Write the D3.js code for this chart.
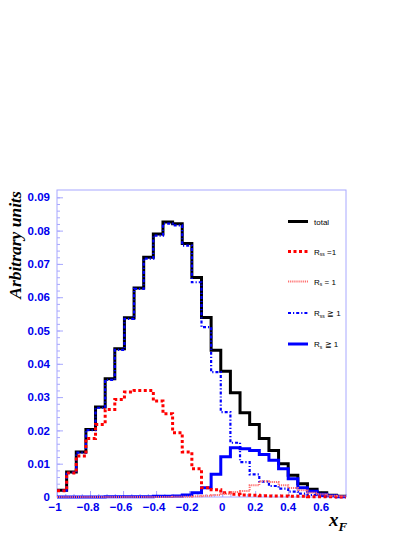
<!DOCTYPE html>
<html>
<head>
<meta charset="utf-8">
<script src="https://cdn.jsdelivr.net/npm/d3@7"></script>
<style>
    body { margin: 0; background: #fff; }
    svg { display: block; }
</style>
</head>
<body>
<script>
// histogram: 30 bins between -1 and 0.75
var xMin = -1, xMax = 0.75, nBins = 30;

var total = [0.0020, 0.0075, 0.0135, 0.0203, 0.0270, 0.0355, 0.0445, 0.0538, 0.0628, 0.0720,
    0.0790, 0.0826, 0.0821, 0.0761, 0.0659, 0.0539, 0.0441, 0.0378, 0.0313, 0.0253,
    0.0218, 0.0176, 0.0140, 0.0100, 0.0065, 0.0040, 0.0023, 0.0013, 0.0005, 0.0002];
var rss1 = [0.0019, 0.0072, 0.0123, 0.0176, 0.0218, 0.0263, 0.0293, 0.0315, 0.0320, 0.0320,
    0.0288, 0.0250, 0.0193, 0.0135, 0.0085, 0.0028, 0.0022, 0.0013, 0.0008, 0.0006,
    0.0005, 0.0004, 0.0003, 0.0003, 0.0002, 0.0002, 0.0001, 0.0001, 0.0001, 0.0000];
var rs1 = [0, 0, 0, 0, 0, 0, 0, 0, 0, 0,
    0, 0, 0.0001, 0.0001, 0.0002, 0.0004, 0.0006, 0.0010, 0.0015, 0.0018,
    0.0035, 0.0047, 0.0045, 0.0035, 0.0027, 0.0020, 0.0013, 0.0008, 0.0004, 0.0002];
var rssGe1 = [0.0019, 0.0073, 0.0133, 0.0201, 0.0268, 0.0352, 0.0442, 0.0535, 0.0625, 0.0716,
    0.0785, 0.0821, 0.0816, 0.0755, 0.0645, 0.0510, 0.0375, 0.0255, 0.0163, 0.0105,
    0.0068, 0.0046, 0.0033, 0.0025, 0.0016, 0.0010, 0.0006, 0.0003, 0.0002, 0.0001];
var rsGe1 = [0, 0, 0, 0, 0, 0.0001, 0.0001, 0.0001, 0.0001, 0.0001,
    0.0002, 0.0002, 0.0003, 0.0006, 0.0013, 0.0028, 0.0068, 0.0121, 0.0148, 0.0145,
    0.0140, 0.0128, 0.0110, 0.0085, 0.0055, 0.0028, 0.0017, 0.0008, 0.0004, 0.0001];

var xTicks = [-1, -0.8, -0.6, -0.4, -0.2, 0, 0.2, 0.4, 0.6];
var yTicks = [0, 0.01, 0.02, 0.03, 0.04, 0.05, 0.06, 0.07, 0.08, 0.09];

const canvWidth = 415, canvHeight = 537;
const frame = {left: 57, right: 346, top: 190, bottom: 497};
const axisBlue = "#0000ee", frameBlue = "#a8a8ff";

const svg = d3.select("body").append("svg")
    .attr("width", canvWidth)
    .attr("height", canvHeight);

var xScale = d3.scaleLinear().domain([xMin, xMax]).range([frame.left, frame.right]);
var yScale = d3.scaleLinear().domain([0, 0.0922]).range([frame.bottom, frame.top]);

var binW = (xMax - xMin) / nBins;

function histPoints(vals) {
    var pts = vals.map(function (v, i) { return [xMin + i * binW, v]; });
    pts.push([xMax, vals[vals.length - 1]]);
    return pts;
}

var stepLine = d3.line()
    .x(d => xScale(d[0]))
    .y(d => yScale(d[1]))
    .curve(d3.curveStepAfter);

// frame
svg.append("rect")
    .attr("x", frame.left)
    .attr("y", frame.top)
    .attr("width", frame.right - frame.left)
    .attr("height", frame.bottom - frame.top)
    .attr("fill", "none")
    .attr("stroke", frameBlue)
    .attr("stroke-width", 1);

// y axis (ticks inside the frame)
var yAxis = d3.axisRight(yScale).tickValues(yTicks).tickSize(6).tickFormat("");
var yMinor = d3.axisRight(yScale).tickValues(d3.range(0, 0.092, 0.002)).tickSize(3).tickFormat("");
[yAxis, yMinor].forEach(function (ax) {
    svg.append("g")
        .attr("transform", "translate(" + frame.left + ",0)")
        .call(ax)
        .call(g => g.select(".domain").remove())
        .selectAll("line").attr("stroke", frameBlue);
});

svg.append("g").selectAll("text")
    .data(yTicks).enter()
    .append("text")
    .attr("x", 50)
    .attr("y", d => yScale(d))
    .attr("dy", "0.36em")
    .attr("text-anchor", "end")
    .attr("font-family", "Liberation Sans, Arial, sans-serif")
    .attr("font-weight", "bold")
    .attr("font-size", "11.5px")
    .attr("fill", axisBlue)
    .text(d => d === 0 ? "0" : d3.format(".2f")(d));

// x axis (ticks pointing up)
var xAxis = d3.axisTop(xScale).tickValues(xTicks).tickSize(6).tickFormat("");
var xMinor = d3.axisTop(xScale).tickValues(d3.range(-1, 0.76, 0.05)).tickSize(3).tickFormat("");
[xAxis, xMinor].forEach(function (ax) {
    svg.append("g")
        .attr("transform", "translate(0," + frame.bottom + ")")
        .call(ax)
        .call(g => g.select(".domain").remove())
        .selectAll("line").attr("stroke", frameBlue);
});

svg.append("g").selectAll("text")
    .data(xTicks).enter()
    .append("text")
    .attr("x", d => xScale(d) - (d < 0 ? 2 : 0))
    .attr("y", 511)
    .attr("text-anchor", "middle")
    .attr("font-family", "Liberation Sans, Arial, sans-serif")
    .attr("font-weight", "bold")
    .attr("font-size", "11.5px")
    .attr("fill", axisBlue)
    .text(d => d3.format("")(d).replace("-", "-"));

// axis titles
svg.append("text")
    .attr("transform", "translate(21,245) rotate(-90)")
    .attr("text-anchor", "middle")
    .attr("font-family", "Liberation Serif, Times New Roman, serif")
    .attr("font-style", "italic")
    .attr("font-weight", "bold")
    .attr("font-size", "17.5px")
    .text("Arbitrary units");

var xTitle = svg.append("text")
    .attr("x", 329)
    .attr("y", 526)
    .attr("font-family", "Liberation Serif, Times New Roman, serif")
    .attr("font-style", "italic")
    .attr("font-weight", "bold")
    .attr("font-size", "19px")
    .text("x");
xTitle.append("tspan")
    .attr("dy", "5")
    .attr("font-size", "13px")
    .text("F");

// histograms
var series = [
    {name: "total", vals: total, color: "#000000", width: 3, dash: null},
    {name: "rsGe1", vals: rsGe1, color: "#0000ff", width: 3, dash: null},
    {name: "rssGe1", vals: rssGe1, color: "#0000ff", width: 2.2, dash: "3,2,1.2,2"},
    {name: "rss1", vals: rss1, color: "#ff0000", width: 3, dash: "3,2.5"},
    {name: "rs1", vals: rs1, color: "#ff7070", width: 2, dash: "1.2,0.9"}
];

svg.append("g").selectAll("path")
    .data(series).enter()
    .append("path")
    .attr("d", d => stepLine(histPoints(d.vals)))
    .attr("fill", "none")
    .attr("stroke", d => d.color)
    .attr("stroke-width", d => d.width)
    .attr("stroke-dasharray", d => d.dash);

// legend
var legend = [
    {s: series[0], label: "total", y: 221.5},
    {s: series[3], label: ["R", "ss", " =1"], y: 251.5},
    {s: series[4], label: ["R", "s", " = 1"], y: 281.5},
    {s: series[2], label: ["R", "ss", " \u2267 1"], y: 313},
    {s: series[1], label: ["R", "s", " \u2267 1"], y: 344}
];

var lg = svg.append("g").selectAll("g")
    .data(legend).enter()
    .append("g");

lg.append("line")
    .attr("x1", 288).attr("x2", 308)
    .attr("y1", d => d.y).attr("y2", d => d.y)
    .attr("stroke", d => d.s.color)
    .attr("stroke-width", d => d.s.width)
    .attr("stroke-dasharray", d => d.s.dash);

lg.each(function (d) {
    var t = d3.select(this).append("text")
        .attr("x", 314)
        .attr("y", d.y + 3)
        .attr("font-family", "Liberation Sans, Arial, sans-serif")
        .attr("font-size", "8px")
        .attr("fill", "#000");
    if (typeof d.label === "string") {
        t.text(d.label);
    } else {
        t.append("tspan").text(d.label[0]);
        t.append("tspan").attr("dy", 1.5).attr("font-size", "5px").text(d.label[1]);
        t.append("tspan").attr("dy", -1.5).text(d.label[2]);
    }
});
</script>
</body>
</html>
